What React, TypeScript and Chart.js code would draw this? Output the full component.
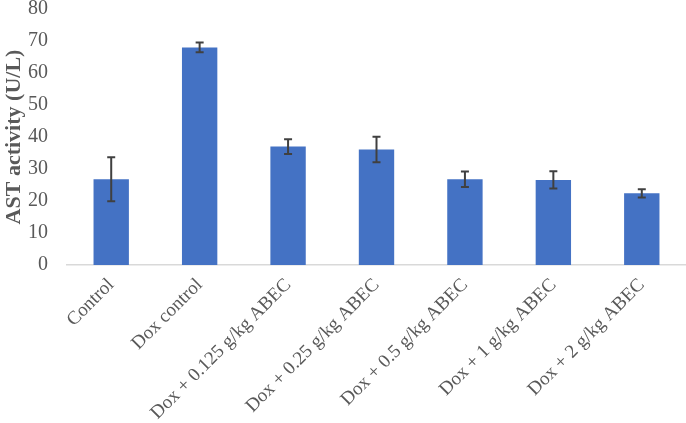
import React, { useEffect, useRef } from "react";
import { Chart, registerables } from "chart.js";

Chart.register(...registerables);

const categories = [
  "Control",
  "Dox control",
  "Dox + 0.125 g/kg ABEC",
  "Dox + 0.25 g/kg ABEC",
  "Dox + 0.5 g/kg ABEC",
  "Dox + 1 g/kg ABEC",
  "Dox + 2 g/kg ABEC",
];
const astValues = [26.8, 68.0, 37.0, 36.1, 26.8, 26.6, 22.4];
const astErrors = [6.9, 1.5, 2.3, 4.0, 2.4, 2.7, 1.3];
const yTicks = [0, 10, 20, 30, 40, 50, 60, 70, 80];

const errorBarPlugin = {
  id: "errorBars",
  afterDatasetsDraw(chart: any) {
    const meta = chart.getDatasetMeta(0);
    const yScale = chart.scales.y;
    const ctx = chart.ctx;
    ctx.save();
    ctx.strokeStyle = "#404040";
    ctx.lineWidth = 2;
    meta.data.forEach((bar: any, i: number) => {
      const v = astValues[i];
      const e = astErrors[i];
      const x = bar.x;
      const yTop = yScale.getPixelForValue(v + e);
      const yBot = yScale.getPixelForValue(v - e);
      const cap = 4;
      ctx.beginPath();
      ctx.moveTo(x, yTop);
      ctx.lineTo(x, yBot);
      ctx.moveTo(x - cap, yTop);
      ctx.lineTo(x + cap, yTop);
      ctx.moveTo(x - cap, yBot);
      ctx.lineTo(x + cap, yBot);
      ctx.stroke();
    });
    ctx.restore();
  },
};

export default function App() {
  const canvasRef = useRef<HTMLCanvasElement | null>(null);

  useEffect(() => {
    document.body.style.margin = "0";
    const canvas = canvasRef.current;
    if (!canvas) return;
    const chart = new Chart(canvas, {
      type: "bar",
      data: {
        labels: categories,
        datasets: [
          {
            data: astValues,
            backgroundColor: "#4472C4",
            borderWidth: 0,
            barPercentage: 0.4,
            categoryPercentage: 1.0,
          },
        ],
      },
      options: {
        animation: false,
        responsive: false,
        maintainAspectRatio: false,
        layout: { padding: { top: 9, right: 0, left: 0, bottom: 0 } },
        plugins: {
          legend: { display: false },
          tooltip: { enabled: false },
        },
        scales: {
          x: {
            grid: { display: false },
            border: { display: true, color: "#D9D9D9", width: 1.5 },
            ticks: {
              color: "#595959",
              font: { family: "'Liberation Serif', 'Times New Roman', serif", size: 19 },
              maxRotation: 45,
              minRotation: 45,
              padding: 1,
            },
            afterFit(scale: any) {
              scale.height = 158;
              scale.paddingLeft = 0;
              scale.paddingRight = 0;
            },
          },
          y: {
            min: 0,
            max: 80,
            grid: { display: false, drawTicks: false },
            border: { display: false },
            afterBuildTicks(scale: any) {
              scale.ticks = yTicks.map((v) => ({ value: v }));
            },
            ticks: {
              color: "#595959",
              font: { family: "'Liberation Serif', 'Times New Roman', serif", size: 20 },
              padding: 19,
            },
            title: {
              display: true,
              text: "AST activity (U/L)",
              color: "#595959",
              font: {
                family: "'Liberation Serif', 'Times New Roman', serif",
                size: 22,
                weight: "bold",
              },
              padding: { top: 1, bottom: 1 },
            },
            afterFit(scale: any) {
              scale.width = 67;
              scale.paddingTop = 0;
              scale.paddingBottom = 0;
            },
          },
        },
      },
      plugins: [errorBarPlugin],
    });
    return () => chart.destroy();
  }, []);

  return (
    <div style={{ width: 686, height: 423 }}>
      <canvas ref={canvasRef} width={686} height={423} />
    </div>
  );
}
